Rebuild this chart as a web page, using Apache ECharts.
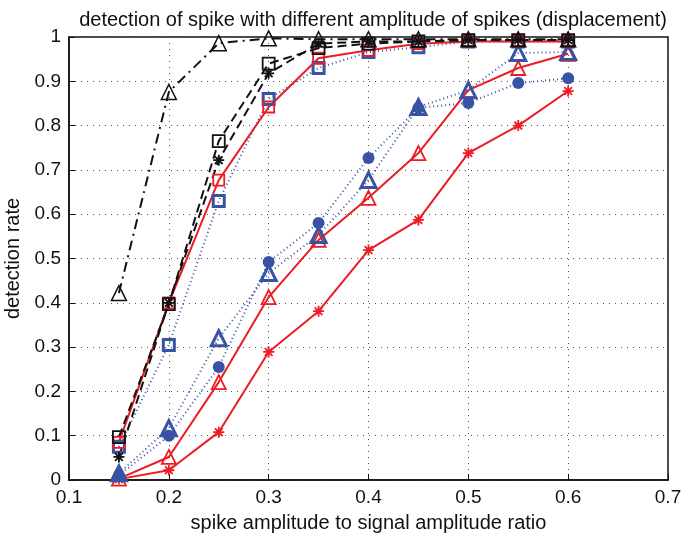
<!DOCTYPE html>
<html>
<head>
<meta charset="utf-8">
<script src="https://cdn.jsdelivr.net/npm/echarts@6/dist/echarts.min.js"></script>
<style>
  html, body { margin: 0; padding: 0; background: #fff; }
  #chart { width: 681px; height: 535px; }
</style>
</head>
<body>
<div id="chart"></div>
<script>
// spike amplitude ratio
const ratios = [0.15, 0.2, 0.25, 0.3, 0.35, 0.4, 0.45, 0.5, 0.55, 0.6];

// detection rates
const blackTri = [0.422, 0.876, 0.986, 0.997, 0.995, 0.995, 0.995, 0.995, 0.995, 0.995];
const blackSq = [0.097, 0.397, 0.765, 0.94, 0.975, 0.985, 0.99, 0.993, 0.993, 0.993];
const blackAst = [0.052, 0.4, 0.722, 0.918, 0.985, 0.99, 0.99, 0.993, 0.993, 0.993];
const redSq = [0.085, 0.4, 0.677, 0.842, 0.952, 0.97, 0.985, 0.99, 0.99, 0.99];
const blueSq = [0.075, 0.305, 0.63, 0.86, 0.93, 0.966, 0.977, 0.99, 0.99, 0.99];
const blueCirc = [0.01, 0.1, 0.255, 0.492, 0.58, 0.727, 0.84, 0.851, 0.896, 0.907];
const blueTri = [0.015, 0.117, 0.32, 0.467, 0.553, 0.677, 0.842, 0.88, 0.964, 0.966];
const redTri = [0.003, 0.052, 0.221, 0.413, 0.542, 0.637, 0.738, 0.88, 0.93, 0.962];
const redAst = [0.002, 0.022, 0.108, 0.289, 0.381, 0.519, 0.587, 0.738, 0.8, 0.878];

const RED = "#ec1c24";
const BLUE = "#3953a4";
const BLACK = "#111";
const ASTERISK = "path://M0,5L10,5M5,0L5,10M1.5,1.5L8.5,8.5M8.5,1.5L1.5,8.5";

const pairs = (ys) => ratios.map((x, i) => [x, ys[i]]);

const mkSeries = (ys, color, symbol, size, lineType, lineWidth, borderWidth, filled) => ({
  type: "line",
  data: pairs(ys),
  symbol: symbol,
  symbolSize: size,
  showAllSymbol: true,
  lineStyle: { color: color, width: lineWidth, type: lineType },
  itemStyle: {
    color: filled ? color : "rgba(255,255,255,0)",
    borderColor: color,
    borderWidth: borderWidth,
  },
  animation: false,
});

const chart = echarts.init(document.getElementById("chart"));

const font = "Liberation Sans, Arial, Helvetica, sans-serif";

chart.setOption({
  backgroundColor: "#fff",
  title: {
    text: "detection of spike with different amplitude of spikes (displacement)",
    left: 368,
    textAlign: "center",
    top: 5,
    textStyle: { fontFamily: font, fontSize: 20, fontWeight: "normal", color: "#111" },
  },
  grid: {
    left: 69,
    right: 13,
    top: 37,
    bottom: 55,
    outerBoundsMode: "none",
    show: true,
    borderColor: "#111",
    borderWidth: 1.5,
    backgroundColor: "transparent",
  },
  xAxis: {
    type: "value",
    min: 0.1,
    max: 0.7,
    interval: 0.1,
    name: "spike amplitude to signal amplitude ratio",
    nameLocation: "middle",
    nameGap: 33,
    nameTextStyle: { fontFamily: font, fontSize: 20, color: "#111" },
    axisLine: { show: true, lineStyle: { color: "#111", width: 1.5 } },
    axisTick: { show: true, inside: true, length: 6, lineStyle: { color: "#111" } },
    axisLabel: {
      fontFamily: font, fontSize: 19, color: "#111", margin: 8,
      formatter: (v) => String(Math.round(v * 10) / 10),
    },
    splitLine: { show: true, lineStyle: { color: "#555", type: [1, 5], width: 1 } },
  },
  yAxis: {
    type: "value",
    min: 0,
    max: 1,
    interval: 0.1,
    name: "detection rate",
    nameLocation: "middle",
    nameGap: 42,
    nameTextStyle: { fontFamily: font, fontSize: 20, color: "#111" },
    axisLine: { show: true, lineStyle: { color: "#111", width: 1.5 } },
    axisTick: { show: true, inside: true, length: 6, lineStyle: { color: "#111" } },
    axisLabel: {
      fontFamily: font, fontSize: 19, color: "#111", margin: 8,
      formatter: (v) => String(Math.round(v * 10) / 10),
    },
    splitLine: { show: true, lineStyle: { color: "#555", type: [1, 5], width: 1 } },
  },
  series: [
    mkSeries(redAst, RED, ASTERISK, 11, "solid", 2, 1.8, false),
    mkSeries(redTri, RED, "triangle", 14, "solid", 2, 1.8, false),
    mkSeries(blueTri, BLUE, "triangle", 15, [1, 3], 2, 3, false),
    mkSeries(blueCirc, BLUE, "circle", 12, [1, 3], 2, 0, true),
    mkSeries(blueSq, BLUE, "rect", 11, [1, 3], 2, 3, false),
    mkSeries(redSq, RED, "rect", 11, "solid", 2, 1.8, false),
    mkSeries(blackAst, BLACK, ASTERISK, 11, [9, 5], 2, 1.8, false),
    mkSeries(blackSq, BLACK, "rect", 12, [9, 5], 2, 1.8, false),
    mkSeries(blackTri, BLACK, "triangle", 15, [10, 5, 2, 5], 2, 1.5, false),
  ],
});
</script>
</body>
</html>
